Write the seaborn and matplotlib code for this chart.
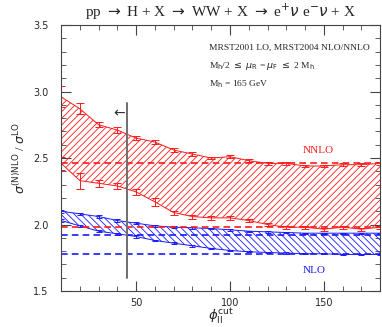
import numpy as np
import pandas as pd
import seaborn as sns
import matplotlib.pyplot as plt
from matplotlib.ticker import MultipleLocator

# cut values and band edges
phi_cut = [10, 20, 30, 40, 50, 60, 70, 80, 90, 100, 110, 120, 130, 140, 150, 160, 170, 180]

nnlo_hi = [2.96, 2.87, 2.75, 2.71, 2.65, 2.62, 2.56, 2.53, 2.50, 2.51, 2.48, 2.46, 2.46, 2.44, 2.44, 2.45, 2.45, 2.46]
nnlo_hi_err = [0.08, 0.04, 0.02, 0.02, 0.015, 0.015, 0.012, 0.012, 0.01, 0.01, 0.01, 0.01, 0.01, 0.01, 0.01, 0.01, 0.01, 0.01]
nnlo_lo = [2.46, 2.33, 2.31, 2.29, 2.245, 2.17, 2.09, 2.06, 2.05, 2.05, 2.03, 2.00, 1.98, 1.98, 1.965, 1.98, 1.965, 1.98]
nnlo_lo_err = [0.05, 0.06, 0.025, 0.02, 0.02, 0.03, 0.015, 0.015, 0.015, 0.015, 0.012, 0.01, 0.01, 0.01, 0.01, 0.01, 0.01, 0.01]

nlo_hi = [2.10, 2.08, 2.06, 2.03, 2.01, 1.99, 1.98, 1.975, 1.97, 1.96, 1.95, 1.945, 1.94, 1.935, 1.935, 1.935, 1.935, 1.935]
nlo_lo = [2.03, 1.99, 1.95, 1.93, 1.91, 1.88, 1.86, 1.84, 1.82, 1.805, 1.795, 1.79, 1.785, 1.78, 1.78, 1.775, 1.775, 1.775]
nlo_err = [0.01, 0.008, 0.008, 0.008, 0.008, 0.006, 0.006, 0.006, 0.005, 0.005, 0.005, 0.005, 0.005, 0.005, 0.005, 0.005, 0.005, 0.005]

# inclusive results (no cut)
nnlo_incl = [2.46, 1.98]
nlo_incl = [1.925, 1.775]

red = '#ff1a1a'
blue = '#1a1aff'

sns.set_style('ticks')
plt.rcParams['font.family'] = ['DejaVu Sans']
plt.rcParams['hatch.linewidth'] = 0.6
plt.rcParams['xtick.direction'] = 'in'
plt.rcParams['ytick.direction'] = 'in'

df = pd.DataFrame({'phi': phi_cut, 'nnlo_hi': nnlo_hi, 'nnlo_lo': nnlo_lo,
                   'nlo_hi': nlo_hi, 'nlo_lo': nlo_lo})

fig = plt.figure(figsize=(3.82, 3.27), dpi=100)
ax = fig.add_axes([0.16, 0.11, 0.835, 0.8135])

# NNLO band
ax.fill_between(df['phi'], df['nnlo_lo'], df['nnlo_hi'], facecolor='none',
                edgecolor=red, hatch='/////', linewidth=0)
sns.lineplot(data=df, x='phi', y='nnlo_hi', color=red, lw=0.7, ax=ax)
sns.lineplot(data=df, x='phi', y='nnlo_lo', color=red, lw=0.7, ax=ax)
ax.errorbar(phi_cut, nnlo_hi, yerr=nnlo_hi_err, fmt='none', ecolor=red, elinewidth=0.7, capsize=2.8, capthick=0.7)
ax.errorbar(phi_cut, nnlo_lo, yerr=nnlo_lo_err, fmt='none', ecolor=red, elinewidth=0.7, capsize=2.8, capthick=0.7)

# NLO band
ax.fill_between(df['phi'], df['nlo_lo'], df['nlo_hi'], facecolor='none',
                edgecolor=blue, hatch='\\\\\\\\\\', linewidth=0)
sns.lineplot(data=df, x='phi', y='nlo_hi', color=blue, lw=0.7, ax=ax)
sns.lineplot(data=df, x='phi', y='nlo_lo', color=blue, lw=0.7, ax=ax)
ax.errorbar(phi_cut, nlo_hi, yerr=nlo_err, fmt='none', ecolor=blue, elinewidth=0.7, capsize=2.0, capthick=0.7)
ax.errorbar(phi_cut, nlo_lo, yerr=nlo_err, fmt='none', ecolor=blue, elinewidth=0.7, capsize=2.0, capthick=0.7)

# inclusive lines
for v in nnlo_incl:
    ax.axhline(v, color=red, ls=(0, (4, 2.5)), lw=1.2)
for v in nlo_incl:
    ax.axhline(v, color=blue, ls=(0, (4, 2.5)), lw=1.2)

# cut marker
ax.plot([45, 45], [1.6, 2.91], color='#6e6e6e', lw=1.4)
ax.text(44, 2.835, '←', ha='right', va='center', fontsize=10, color='#333333')

ax.text(147, 2.555, 'NNLO', color=red, fontsize=8, family='Liberation Serif', ha='center', va='center')
ax.text(145, 1.655, 'NLO', color=blue, fontsize=8, family='Liberation Serif', ha='center', va='center')

ax.text(0.465, 0.915, 'MRST2001 LO, MRST2004 NLO/NNLO', transform=ax.transAxes,
        fontsize=6.8, family='Liberation Serif', va='center')
ax.text(0.465, 0.845, r'M$_{\rm h}$/2 $\leq$ $\mu_{\rm R}$ = $\mu_{\rm F}$ $\leq$ 2 M$_{\rm h}$', transform=ax.transAxes,
        fontsize=6.8, family='Liberation Serif', va='center')
ax.text(0.465, 0.778, r'M$_{\rm h}$ = 165 GeV', transform=ax.transAxes,
        fontsize=6.8, family='Liberation Serif', va='center')

ax.set_xlim(10, 180)
ax.set_ylim(1.5, 3.5)
ax.xaxis.set_major_locator(MultipleLocator(50))
ax.xaxis.set_minor_locator(MultipleLocator(10))
ax.yaxis.set_major_locator(MultipleLocator(0.5))
ax.yaxis.set_minor_locator(MultipleLocator(0.1))
ax.set_yticks([1.5, 2.0, 2.5, 3.0, 3.5])
ax.set_yticklabels(['1.5', '2.0', '2.5', '3.0', '3.5'])
ax.tick_params(which='both', top=True, right=True, labelsize=7, color='#444444')
ax.tick_params(which='major', length=7, width=0.8)
ax.tick_params(which='minor', length=3.5, width=0.6)
ax.tick_params(axis='x', which='major', pad=5)
ax.tick_params(axis='y', which='major', pad=9)
for s in ax.spines.values():
    s.set_color('#444444')
    s.set_linewidth(0.8)

ax.set_xlabel(r'$\phi_{\rm ll}^{\rm cut}$', fontsize=9.5, labelpad=-1)
ax.set_ylabel(r'$\sigma^{\rm (N)NLO}$ / $\sigma^{\rm LO}$', fontsize=9, family='Liberation Serif', labelpad=4)
ax.set_title(r'pp $\rightarrow$ H + X $\rightarrow$ WW + X $\rightarrow$ e$^{+}\nu$ e$^{-}\nu$ + X',
             fontsize=11, family='Liberation Serif', pad=6)

fig.savefig('out.png', dpi=100)
